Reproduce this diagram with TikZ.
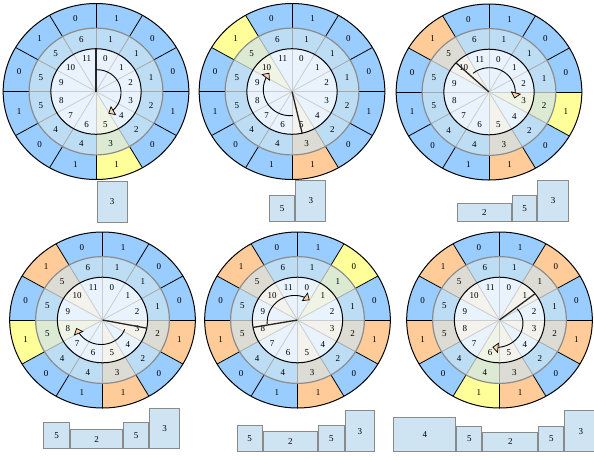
\documentclass[tikz,border=0pt]{standalone}
\usepackage{fontspec}
\setmainfont{Liberation Serif}
\usetikzlibrary{arrows.meta}
\definecolor{oBlue}{HTML}{99CCFF}
\definecolor{oYellow}{HTML}{FFFF99}
\definecolor{oOrange}{HTML}{FFCC99}
\definecolor{mBlue}{HTML}{BDDDF5}
\definecolor{mGreen}{HTML}{DCEAD4}
\definecolor{mGray}{HTML}{DDDCD4}
\definecolor{iBlue}{HTML}{E8F3FD}
\definecolor{iGreen}{HTML}{EFF4E4}
\definecolor{iGray}{HTML}{F3F2EC}
\definecolor{barFill}{HTML}{CFE4F3}
\definecolor{barLine}{HTML}{8A8A8A}
\definecolor{tipFill}{HTML}{FFD4AA}
\newcommand\wRo{88}
\newcommand\wRm{63.4}
\newcommand\wRi{42.8}
\tikzset{
  wheelat/.style 2 args={shift={(#1,#2)}, xscale=1.055, yscale=-1},
  innerdiv/.style={draw=black!20, line width=0.8pt},
  middiv/.style={draw=black!35, line width=0.8pt},
  outerdiv/.style={draw=black, line width=0.8pt},
  midedge/.style={draw=black!45, line width=1.2pt},
  inedge/.style={draw=black, line width=1pt},
  outedge/.style={draw=black, line width=1pt},
  lbl/.style={inner sep=0pt, text=black},
  hand/.style={draw=black!85, line width=1.3pt},
  turn/.style={draw=black, line width=0.9pt, -{Triangle[length=6pt,width=10.5pt,fill=tipFill,line width=0.7pt]}},
  bar/.style={draw=barLine, fill=barFill, line width=1pt, inner sep=0pt, anchor=south west}
}
\newcommand\ringsector[5]{%
  \fill[#1] (#4:#3) arc[start angle=#4, end angle=#5, radius=#3] -- (#5:#2) arc[start angle=#5, end angle=#4, radius=#2] -- cycle;}
\newcommand\paintsector[4]{%
  \pgfmathsetmacro\wSa{90-30*#1}\pgfmathsetmacro\wSb{60-30*#1}%
  \ringsector{#2}{\wRm}{\wRo}{\wSa}{\wSb}%
  \ringsector{#3}{\wRi}{\wRm}{\wSa}{\wSb}%
  \fill[#4] (0,0) -- (\wSa:\wRi) arc[start angle=\wSa, end angle=\wSb, radius=\wRi] -- cycle;}
\newcommand\drawwheel[5]{%
\begin{scope}[wheelat={#2}{#3}]
  \foreach \k in {0,...,11}{\paintsector{\k}{oBlue}{mBlue}{iBlue}}
  \if\relax\detokenize{#5}\relax\else
    \foreach \k in {#5}{\paintsector{\k}{oOrange}{mGray}{iGray}}
  \fi
  \paintsector{#4}{oYellow}{mGreen}{iGreen}
  \foreach \k in {0,...,11}{
    \draw[innerdiv] (0,0) -- ({30*\k}:\wRi);
    \draw[middiv] ({30*\k}:\wRi) -- ({30*\k}:\wRm);
    \draw[outerdiv] ({30*\k}:\wRm) -- ({30*\k}:\wRo);
  }
  \draw[midedge] (0,0) circle[radius=\wRm];
  \draw[inedge] (0,0) circle[radius=\wRi];
  \draw[outedge] (0,0) circle[radius=\wRo];
  \foreach \k/\ov/\mv in {0/1/1,1/0/1,2/0/1,3/1/2,4/0/2,5/1/3,6/1/4,7/0/4,8/1/5,9/0/5,10/1/5,11/0/6}{
    \pgfmathsetmacro\wAm{75-30*\k}
    \node[lbl] (#1o\k) at (\wAm:75.5) {\ov};
    \node[lbl] (#1m\k) at (\wAm:54) {\mv};
    \node[lbl] (#1i\k) at (\wAm:34) {\k};
  }
\end{scope}}
\newcommand\handline[4]{%
\begin{scope}[wheelat={#2}{#3}]
  \coordinate (#1c) at (0,0);
  \coordinate (#1h) at (#4:\wRi);
  \draw[hand] (#1c) -- (#1h);
\end{scope}}
\newcommand\turnarc[6]{%
\begin{scope}[wheelat={#1}{#2}]
  \draw[turn] plot[domain=#3:#4, samples=90, variable=\t] (\t:{#5+(#6-#5)*(\t-(#3))/((#4)-(#3))});
\end{scope}}
\begin{document}
\begin{tikzpicture}[x=1pt, y=-1pt, font=\fontsize{9}{10}\selectfont]
\fill[white] (0,0) rectangle (594,459);
\useasboundingbox (0,0) rectangle (594,459);
% top row
\drawwheel{A}{96}{91.5}{5}{}
\handline{A}{96}{91.5}{90}
\turnarc{96}{91.5}{90}{-62}{21.7}{25}
\drawwheel{B}{292}{91.5}{10}{5}
\handline{B}{292}{91.5}{-77}
\turnarc{292}{91.5}{-88}{-221}{24}{28.5}
\drawwheel{C}{489}{92}{3}{10,5}
\handline{C}{489}{92}{137}
\turnarc{489}{92}{129}{-15}{24}{25}
% bottom row
\drawwheel{D}{102.5}{320}{8}{3,10,5}
\handline{D}{102.5}{320}{-11}
\turnarc{102.5}{320}{-24}{-162}{23}{26}
\drawwheel{E}{297.5}{320}{1}{8,3,10,5}
\handline{E}{297.5}{320}{-170}
\turnarc{297.5}{320}{-172}{-300}{29}{23}
\drawwheel{F}{499.5}{320}{6}{1,8,3,10,5}
\handline{F}{499.5}{320}{38}
\turnarc{499.5}{320}{34}{-104}{20}{28}
% bars
\node[bar, minimum width=30pt, minimum height=41pt] (Ab1) at (96.7,222.5) {3};
\node[bar, minimum width=25.3pt, minimum height=26pt] (Bb1) at (269,222) {5};
\node[bar, minimum width=30pt, minimum height=41pt] (Bb2) at (Bb1.south east) {3};
\node[bar, minimum width=54.3pt, minimum height=18.5pt] (Cb1) at (456.7,222) {2};
\node[bar, minimum width=24.3pt, minimum height=26pt] (Cb2) at (Cb1.south east) {5};
\node[bar, minimum width=30.4pt, minimum height=41pt] (Cb3) at (Cb2.south east) {3};
\node[bar, minimum width=25.7pt, minimum height=26pt] (Db1) at (43.3,449) {5};
\node[bar, minimum width=52pt, minimum height=18.7pt] (Db2) at (Db1.south east) {2};
\node[bar, minimum width=25pt, minimum height=26pt] (Db3) at (Db2.south east) {5};
\node[bar, minimum width=30pt, minimum height=40.3pt] (Db4) at (Db3.south east) {3};
\node[bar, minimum width=25pt, minimum height=26pt] (Eb1) at (236.7,452) {5};
\node[bar, minimum width=54.3pt, minimum height=19.7pt] (Eb2) at (Eb1.south east) {2};
\node[bar, minimum width=25.7pt, minimum height=26pt] (Eb3) at (Eb2.south east) {5};
\node[bar, minimum width=29.3pt, minimum height=40.7pt] (Eb4) at (Eb3.south east) {3};
\node[bar, minimum width=62pt, minimum height=34pt] (Fb1) at (393.3,452.3) {4};
\node[bar, minimum width=25pt, minimum height=25.6pt] (Fb2) at (Fb1.south east) {5};
\node[bar, minimum width=55pt, minimum height=19.6pt] (Fb3) at (Fb2.south east) {2};
\node[bar, minimum width=25pt, minimum height=25.6pt] (Fb4) at (Fb3.south east) {5};
\node[bar, minimum width=32pt, minimum height=41.3pt] (Fb5) at (Fb4.south east) {3};
\end{tikzpicture}
\end{document}
